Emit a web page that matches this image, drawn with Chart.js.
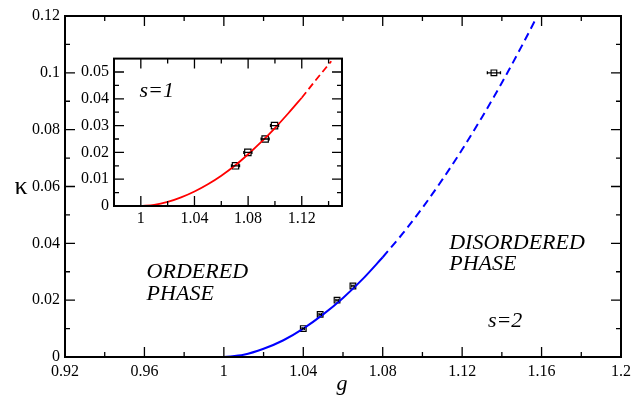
<!DOCTYPE html>
<html>
<head>
<meta charset="utf-8">
<script src="https://cdn.jsdelivr.net/npm/chart.js@4.4.1/dist/chart.umd.min.js"></script>
<style>
  html, body { margin: 0; padding: 0; background: #fff; }
  #wrap { position: relative; width: 640px; height: 396px; }
  #mainChart { position: absolute; left: 0; top: 0; }
  #insetChart { position: absolute; left: 70px; top: 44px; }
</style>
</head>
<body>
<div id="wrap">
  <canvas id="mainChart" width="640" height="396"></canvas>
  <canvas id="insetChart" width="290" height="186"></canvas>
</div>
<script>
// s=2 (azul): tramo continuo y tramo a trazos
const g2Solid = [1.00, 1.01, 1.02, 1.03, 1.04, 1.05, 1.06, 1.07, 1.08];
const k2Solid = [0, 0.0008, 0.0029, 0.0059, 0.0100, 0.0150, 0.0208, 0.0275, 0.0351];
const g2Dash = [1.08, 1.09, 1.10, 1.11, 1.12, 1.13, 1.14, 1.15, 1.1575];
const k2Dash = [0.0351, 0.0434, 0.0525, 0.0624, 0.0730, 0.0844, 0.0965, 0.1094, 0.1195];
// puntos con barra de error horizontal
const g2Pts = [1.040, 1.0485, 1.057, 1.065, 1.136];
const k2Pts = [0.010, 0.015, 0.020, 0.025, 0.100];
const g2Err = [0.0006, 0.0006, 0.0006, 0.0006, 0.0033];

// s=1 (rojo), recuadro
const g1Solid = [1.00, 1.01, 1.02, 1.03, 1.04, 1.05, 1.06, 1.07, 1.08, 1.09, 1.10, 1.11, 1.12];
const k1Solid = [0, 0.0004, 0.0015, 0.0032, 0.0054, 0.0081, 0.0113, 0.0150, 0.0193, 0.0240, 0.0291, 0.0346, 0.0404];
const g1Dash = [1.12, 1.13, 1.142];
const k1Dash = [0.0404, 0.0467, 0.0540];
const g1Pts = [1.0706, 1.0798, 1.0927, 1.0997];
const k1Pts = [0.015, 0.020, 0.025, 0.030];
const g1Err = [0.003, 0.003, 0.003, 0.003];

// ticks
const mainXTicks = [0.92, 0.96, 1.00, 1.04, 1.08, 1.12, 1.16, 1.20];
const mainYTicks = [0, 0.02, 0.04, 0.06, 0.08, 0.10, 0.12];
const insetXTicks = [1.00, 1.04, 1.08, 1.12];
const insetYTicks = [0, 0.01, 0.02, 0.03, 0.04, 0.05];

const SERIF = "'Liberation Serif', 'DejaVu Serif', serif";

function pts(gs, ks) { return gs.map((g, i) => ({ x: g, y: ks[i] })); }
function fmt(v) { return String(Math.round(v * 10000) / 10000); }

// marco con ticks hacia dentro (mayores y menores) en los 4 lados
const frameTicks = {
  id: 'frameTicks',
  afterDatasetsDraw(chart) {
    const { ctx, chartArea: a, scales: { x, y } } = chart;
    const major = 10, minor = 5;
    const minors = (s) => {
      const t = s.ticks.map(k => k.value);
      const step = t[1] - t[0];
      const out = [];
      for (let k = -2; k < t.length + 1; k++) {
        const v = t[0] + (k + 0.5) * step;
        if (v > s.min + 1e-9 && v < s.max - 1e-9) out.push(v);
      }
      return out;
    };
    ctx.save();
    ctx.strokeStyle = '#000';
    ctx.lineWidth = 1.3;
    const xt = x.ticks.map(k => [k.value, major]).concat(minors(x).map(v => [v, minor]));
    xt.forEach(([v, len]) => {
      const px = x.getPixelForValue(v);
      ctx.beginPath();
      ctx.moveTo(px, a.bottom); ctx.lineTo(px, a.bottom - len);
      ctx.moveTo(px, a.top); ctx.lineTo(px, a.top + len);
      ctx.stroke();
    });
    const yt = y.ticks.map(k => [k.value, major]).concat(minors(y).map(v => [v, minor]));
    yt.forEach(([v, len]) => {
      const py = y.getPixelForValue(v);
      ctx.beginPath();
      ctx.moveTo(a.left, py); ctx.lineTo(a.left + len, py);
      ctx.moveTo(a.right, py); ctx.lineTo(a.right - len, py);
      ctx.stroke();
    });
    ctx.lineWidth = 2;
    ctx.strokeRect(a.left, a.top, a.right - a.left, a.bottom - a.top);
    ctx.restore();
  }
};

// barras de error horizontales
const errorBars = {
  id: 'errorBars',
  afterDatasetsDraw(chart) {
    const { ctx, scales: { x } } = chart;
    chart.data.datasets.forEach((ds, i) => {
      if (!ds.xErr) return;
      const meta = chart.getDatasetMeta(i);
      ctx.save();
      ctx.strokeStyle = '#000';
      ctx.lineWidth = 1.3;
      meta.data.forEach((p, j) => {
        const d = ds.data[j];
        const x0 = x.getPixelForValue(d.x - ds.xErr[j]);
        const x1 = x.getPixelForValue(d.x + ds.xErr[j]);
        ctx.beginPath();
        ctx.moveTo(x0, p.y); ctx.lineTo(x1, p.y);
        ctx.moveTo(x0, p.y - 1.5); ctx.lineTo(x0, p.y + 1.5);
        ctx.moveTo(x1, p.y - 1.5); ctx.lineTo(x1, p.y + 1.5);
        ctx.stroke();
      });
      ctx.restore();
    });
  }
};

// textos dentro del gráfico (coordenadas de datos) y títulos de ejes (píxeles)
const labelsPlugin = {
  id: 'labelsPlugin',
  afterDraw(chart, args, opts) {
    const { ctx, scales: { x, y } } = chart;
    ctx.save();
    ctx.fillStyle = '#000';
    ctx.textBaseline = 'alphabetic';
    (opts.items || []).forEach(it => {
      ctx.font = it.font;
      ctx.textAlign = it.align || 'left';
      const px = it.px ? it.x : x.getPixelForValue(it.x);
      const py = it.px ? it.y : y.getPixelForValue(it.y);
      ctx.fillText(it.text, px, py);
    });
    ctx.restore();
  }
};

function scaleOpts(min, max, ticks, fitKey, fitVal, pad) {
  return {
    type: 'linear',
    min: min,
    max: max,
    afterBuildTicks: s => { s.ticks = ticks.map(v => ({ value: v })); },
    afterFit: s => { s[fitKey] = fitVal; },
    grid: { display: false, drawTicks: false },
    border: { display: false },
    ticks: {
      callback: v => fmt(v),
      color: '#000',
      font: { family: SERIF, size: 16 },
      padding: pad,
      autoSkip: false,
      maxRotation: 0
    }
  };
}

const ITAL = 'italic 22px ' + SERIF;

new Chart(document.getElementById('mainChart').getContext('2d'), {
  type: 'scatter',
  data: {
    datasets: [
      {
        data: pts(g2Solid, k2Solid), showLine: true, borderColor: '#0000ff',
        borderWidth: 2, pointRadius: 0, cubicInterpolationMode: 'monotone'
      },
      {
        data: pts(g2Dash, k2Dash), showLine: true, borderColor: '#0000ff',
        borderWidth: 2, borderDash: [8, 5], pointRadius: 0, cubicInterpolationMode: 'monotone'
      },
      {
        data: pts(g2Pts, k2Pts), xErr: g2Err, showLine: false, pointStyle: 'rect',
        pointRadius: 4, borderColor: '#000', borderWidth: 1.2, backgroundColor: 'rgba(0,0,0,0)'
      }
    ]
  },
  options: {
    responsive: false,
    animation: false,
    layout: { padding: { top: 16, right: 19, left: 0, bottom: 0 } },
    scales: {
      x: scaleOpts(0.92, 1.2, mainXTicks, 'height', 39, 5),
      y: scaleOpts(0, 0.12, mainYTicks, 'width', 65, 5)
    },
    plugins: {
      legend: { display: false },
      tooltip: { enabled: false },
      labelsPlugin: {
        items: [
          { text: 'ORDERED', x: 0.9611, y: 0.0278, font: ITAL },
          { text: 'PHASE', x: 0.9611, y: 0.0201, font: ITAL },
          { text: 'DISORDERED', x: 1.1135, y: 0.0380, font: ITAL },
          { text: 'PHASE', x: 1.1135, y: 0.0306, font: ITAL },
          { text: 's=2', x: 1.1330, y: 0.0106, font: ITAL },
          { text: 'κ', x: 21, y: 194, px: true, align: 'center', font: '26px ' + SERIF },
          { text: 'g', x: 342, y: 390, px: true, align: 'center', font: ITAL }
        ]
      }
    }
  },
  plugins: [frameTicks, errorBars, labelsPlugin]
});

new Chart(document.getElementById('insetChart').getContext('2d'), {
  type: 'scatter',
  data: {
    datasets: [
      {
        data: pts(g1Solid, k1Solid), showLine: true, borderColor: '#ff0000',
        borderWidth: 1.8, pointRadius: 0, cubicInterpolationMode: 'monotone'
      },
      {
        data: pts(g1Dash, k1Dash), showLine: true, borderColor: '#ff0000',
        borderWidth: 1.8, borderDash: [7, 4], pointRadius: 0, cubicInterpolationMode: 'monotone'
      },
      {
        data: pts(g1Pts, k1Pts), xErr: g1Err, showLine: false, pointStyle: 'rect',
        pointRadius: 4.5, borderColor: '#000', borderWidth: 1.2, backgroundColor: 'rgba(0,0,0,0)'
      }
    ]
  },
  options: {
    responsive: false,
    animation: false,
    layout: { padding: { top: 9, right: 18, left: 0, bottom: 0 } },
    scales: {
      x: scaleOpts(0.98, 1.15, insetXTicks, 'height', 24, 3),
      y: scaleOpts(0, 0.055, insetYTicks, 'width', 44, 5)
    },
    plugins: {
      legend: { display: false },
      tooltip: { enabled: false },
      labelsPlugin: {
        items: [
          { text: 's=1', x: 0.999, y: 0.0405, font: ITAL }
        ]
      }
    }
  },
  plugins: [frameTicks, errorBars, labelsPlugin]
});
</script>
</body>
</html>
